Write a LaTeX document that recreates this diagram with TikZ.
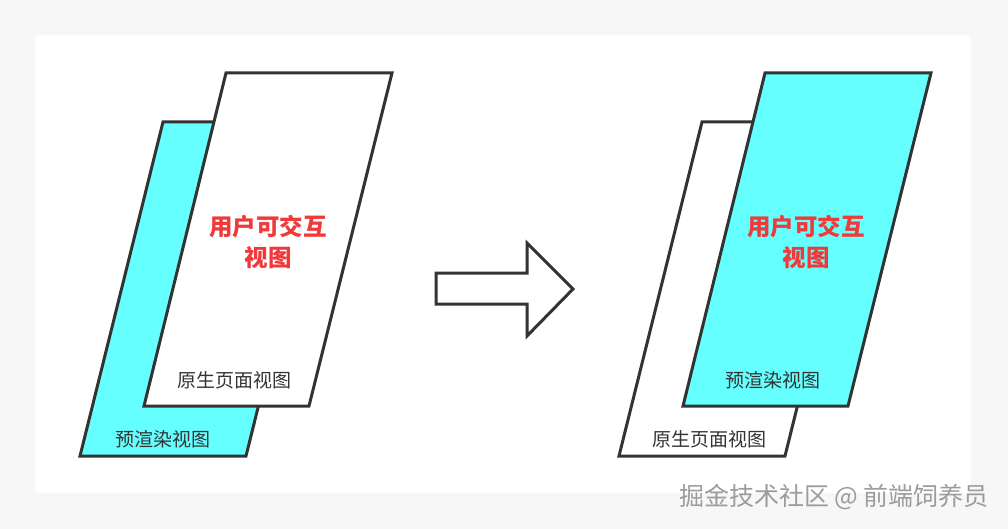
\documentclass[tikz,border=0pt]{standalone}
\usepackage{fontspec}
\newfontfamily\cjk{Noto Sans CJK SC}
\definecolor{cyanfill}{HTML}{66FFFF}
\definecolor{edge}{HTML}{333333}
\definecolor{redtxt}{HTML}{F03A3A}
\definecolor{outerbg}{HTML}{F7F7F7}
\definecolor{wmark}{HTML}{9C9C9C}
\tikzset{
  sheet/.style={draw=edge, line width=3pt, line join=miter},
  cyansheet/.style={sheet, fill=cyanfill},
  whitesheet/.style={sheet, fill=white},
  bigtxt/.style={font=\cjk\bfseries\fontsize{23.5}{31.5}\selectfont, text=redtxt, align=center, inner sep=0pt},
  smalltxt/.style={font=\cjk\fontsize{19}{21}\selectfont, text=edge, inner sep=0pt},
  marktxt/.style={font=\cjk\fontsize{25}{28}\selectfont, text=wmark, inner sep=0pt}
}
\begin{document}
\begin{tikzpicture}[x=1pt,y=-1pt]
\useasboundingbox (0,0) rectangle (1008,529);
\fill[outerbg] (0,0) rectangle (1008,529);
\fill[white, rounded corners=4pt] (35,35) rectangle (971,493);
% left group
\draw[cyansheet] (163,122) -- (329,122) -- (246,456) -- (80,456) -- cycle;
\draw[whitesheet] (226,73) -- (392,73) -- (309,406) -- (144,406) -- cycle;
\node[bigtxt] (lmain) at (268,242) {用户可交互\\视图};
\node[smalltxt] (lnative) at (234,380) {原生页面视图};
\node[smalltxt] (lpre) at (163,439) {预渲染视图};
% arrow
\draw[whitesheet] (436,273) -- (527,273) -- (527,243) -- (573,289) -- (527,336) -- (527,304) -- (436,304) -- cycle;
% right group
\draw[whitesheet] (702,122) -- (868,122) -- (785,456) -- (619,456) -- cycle;
\draw[cyansheet] (765,73) -- (931,73) -- (848,406) -- (683,406) -- cycle;
\node[bigtxt] (rmain) at (806,242) {用户可交互\\视图};
\node[smalltxt] (rpre) at (773,380) {预渲染视图};
\node[smalltxt] (rnative) at (709,439) {原生页面视图};
% watermark
\node[marktxt] (mark) at (834,497) {掘金技术社区 @ 前端饲养员};
\end{tikzpicture}
\end{document}
